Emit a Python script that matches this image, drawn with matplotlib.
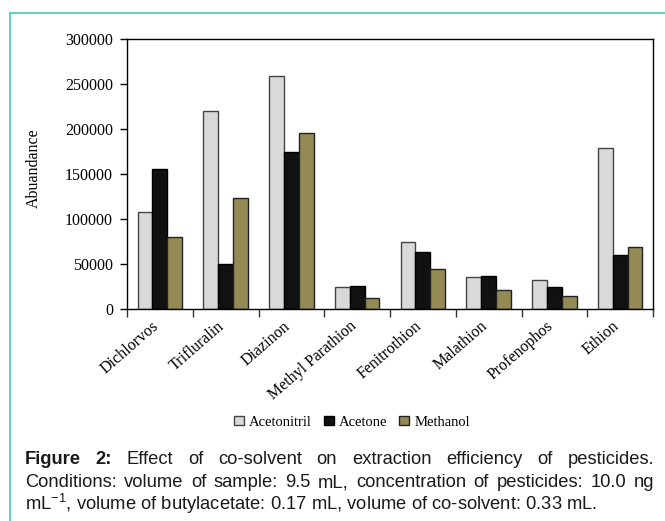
import matplotlib
matplotlib.use("Agg")
import matplotlib.pyplot as plt
import numpy as np
from matplotlib.lines import Line2D
from matplotlib.transforms import ScaledTranslation

categories = ["Dichlorvos", "Trifluralin", "Diazinon", "Methyl Parathion",
              "Fenitrothion", "Malathion", "Profenophos", "Ethion"]
acetonitril = [108000, 220000, 259000, 25000, 74000, 35500, 32000, 178500]
acetone = [156000, 50500, 174000, 26000, 63000, 37000, 24000, 59500]
methanol = [80500, 123000, 196000, 12500, 45000, 21000, 15000, 69000]
series_names = ["Acetonitril", "Acetone", "Methanol"]
yticks = [0, 50000, 100000, 150000, 200000, 250000, 300000]

W, H = 665, 521
fig = plt.figure(figsize=(W / 100, H / 100), dpi=100)
fig.patch.set_facecolor("white")

serif = ["Liberation Serif", "DejaVu Serif"]
sans = ["Liberation Sans", "DejaVu Sans"]

ax = fig.add_axes([127 / W, 1 - 309 / H, (653 - 127) / W, (309 - 39) / H])

x = np.arange(len(categories))
bw = 0.226
colors = ["#d9d9d9", "#111111", "#948a54"]
edges = ["#444444", "#000000", "#222222"]
for i, (vals, name) in enumerate(zip([acetonitril, acetone, methanol], series_names)):
    ax.bar(x + (i - 1) * bw, vals, width=bw, color=colors[i], edgecolor=edges[i],
           linewidth=1.0, label=name, zorder=2)

ax.set_xlim(-0.5, len(categories) - 0.5)
ax.set_ylim(0, 300000)
ax.set_yticks(yticks)
ax.set_yticklabels([str(v) for v in yticks], fontfamily=serif, fontsize=11.5)
ax.tick_params(axis="y", direction="out", length=5, width=1, pad=5, colors="black")

ax.set_xticks(x)
ax.set_xticks(np.arange(len(categories) + 1) - 0.5, minor=True)
ax.tick_params(axis="x", which="major", length=0, pad=11)
ax.tick_params(axis="x", which="minor", direction="out", length=5.5, width=1, color="#333333")
labels = ax.set_xticklabels(categories, fontfamily=serif, fontsize=11.5,
                            rotation=41, ha="right", va="center", rotation_mode="anchor")
offset = ScaledTranslation(-3 / 100, 0, fig.dpi_scale_trans)
for lab in labels:
    lab.set_transform(lab.get_transform() + offset)

for sp in ax.spines.values():
    sp.set_linewidth(1.0)
    sp.set_color("black")

ax.set_ylabel("Abuandance", fontfamily=serif, fontsize=11.5)
ax.yaxis.set_label_coords((42 - 127) / 526, (309 - 168) / 270)

leg = fig.legend(loc="center", bbox_to_anchor=(352 / W, 1 - 422 / H), ncol=3,
                 frameon=False, prop={"family": serif, "size": 10.5},
                 handlelength=0.7, handleheight=0.65, handletextpad=0.35,
                 columnspacing=0.8, borderaxespad=0)

# teal border
fig.add_artist(Line2D([10 / W, 10 / W], [0, 1 - 12.5 / H], transform=fig.transFigure,
                      color="#4fd1b8", linewidth=1.3))
fig.add_artist(Line2D([10 / W, 1], [1 - 12.5 / H, 1 - 12.5 / H], transform=fig.transFigure,
                      color="#4fd1b8", linewidth=1.3))

# caption (justified lines)
cap_size = 13.2
renderer = fig.canvas.get_renderer()
left_px, right_px = 25, 654
lines = [
    ([("Figure", "bold"), ("2:", "bold"), ("Effect", "normal"), ("of", "normal"),
      ("co-solvent", "normal"), ("on", "normal"), ("extraction", "normal"),
      ("efficiency", "normal"), ("of", "normal"), ("pesticides.", "normal")], 464, True),
    ([(w, "normal") for w in "Conditions: volume of sample: 9.5 mL, concentration of pesticides: 10.0 ng".split()], 487, True),
]
for words, ybase, justify in lines:
    texts = []
    widths = []
    for w, weight in words:
        t = fig.text(0, 1 - ybase / H, w, fontfamily=sans, fontsize=cap_size,
                     fontweight=weight, va="baseline", ha="left", color="#1a1a1a")
        texts.append(t)
        widths.append(t.get_window_extent(renderer).width)
    gap = (right_px - left_px - sum(widths)) / (len(words) - 1)
    xpos = left_px
    for t, wdt in zip(texts, widths):
        t.set_x(xpos / W)
        xpos += wdt + gap

plt.rcParams["mathtext.default"] = "regular"
fig.text(left_px / W, 1 - 510 / H,
         r"mL$^{-1}$, volume of butylacetate: 0.17 mL, volume of co-solvent: 0.33 mL.",
         fontfamily=sans, fontsize=cap_size, va="baseline", ha="left", color="#1a1a1a")

fig.savefig("out.png", dpi=100, facecolor="white")
